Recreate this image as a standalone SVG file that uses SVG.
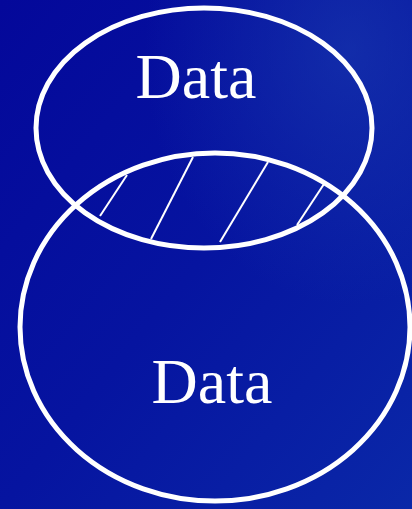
<svg xmlns="http://www.w3.org/2000/svg" width="412" height="509" viewBox="0 0 412 509">
<defs>
<linearGradient id="bg" x1="0" y1="0" x2="1" y2="1">
<stop offset="0" stop-color="#04089a"/>
<stop offset="0.5" stop-color="#0614a0"/>
<stop offset="1" stop-color="#0a28a8"/>
</linearGradient>
<radialGradient id="glow" cx="0.85" cy="0.1" r="0.5">
<stop offset="0" stop-color="#1a3cb0" stop-opacity="0.6"/>
<stop offset="1" stop-color="#1a3cb0" stop-opacity="0"/>
</radialGradient>
<style>
.ring{fill:none;stroke:#fff;stroke-width:5}
.hatch{stroke:#fff;stroke-width:2}
.lbl{font-family:"Liberation Serif",serif;font-size:64px;fill:#fff;text-anchor:middle}
</style>
</defs>
<rect width="412" height="509" fill="url(#bg)"/>
<rect width="412" height="509" fill="url(#glow)"/>
<g id="connectors">
<line class="hatch" x1="127" y1="175" x2="100" y2="216"/>
<line class="hatch" x1="193" y1="157" x2="151" y2="239"/>
<line class="hatch" x1="268" y1="162" x2="220" y2="242"/>
<line class="hatch" x1="324" y1="184" x2="297" y2="225"/>
</g>
<g id="top">
<ellipse class="ring" cx="204" cy="128" rx="168" ry="120"/>
<text class="lbl" x="196" y="98">Data</text>
</g>
<g id="bottom">
<ellipse class="ring" cx="215" cy="327" rx="195" ry="174"/>
<text class="lbl" x="212" y="403">Data</text>
</g>
</svg>
